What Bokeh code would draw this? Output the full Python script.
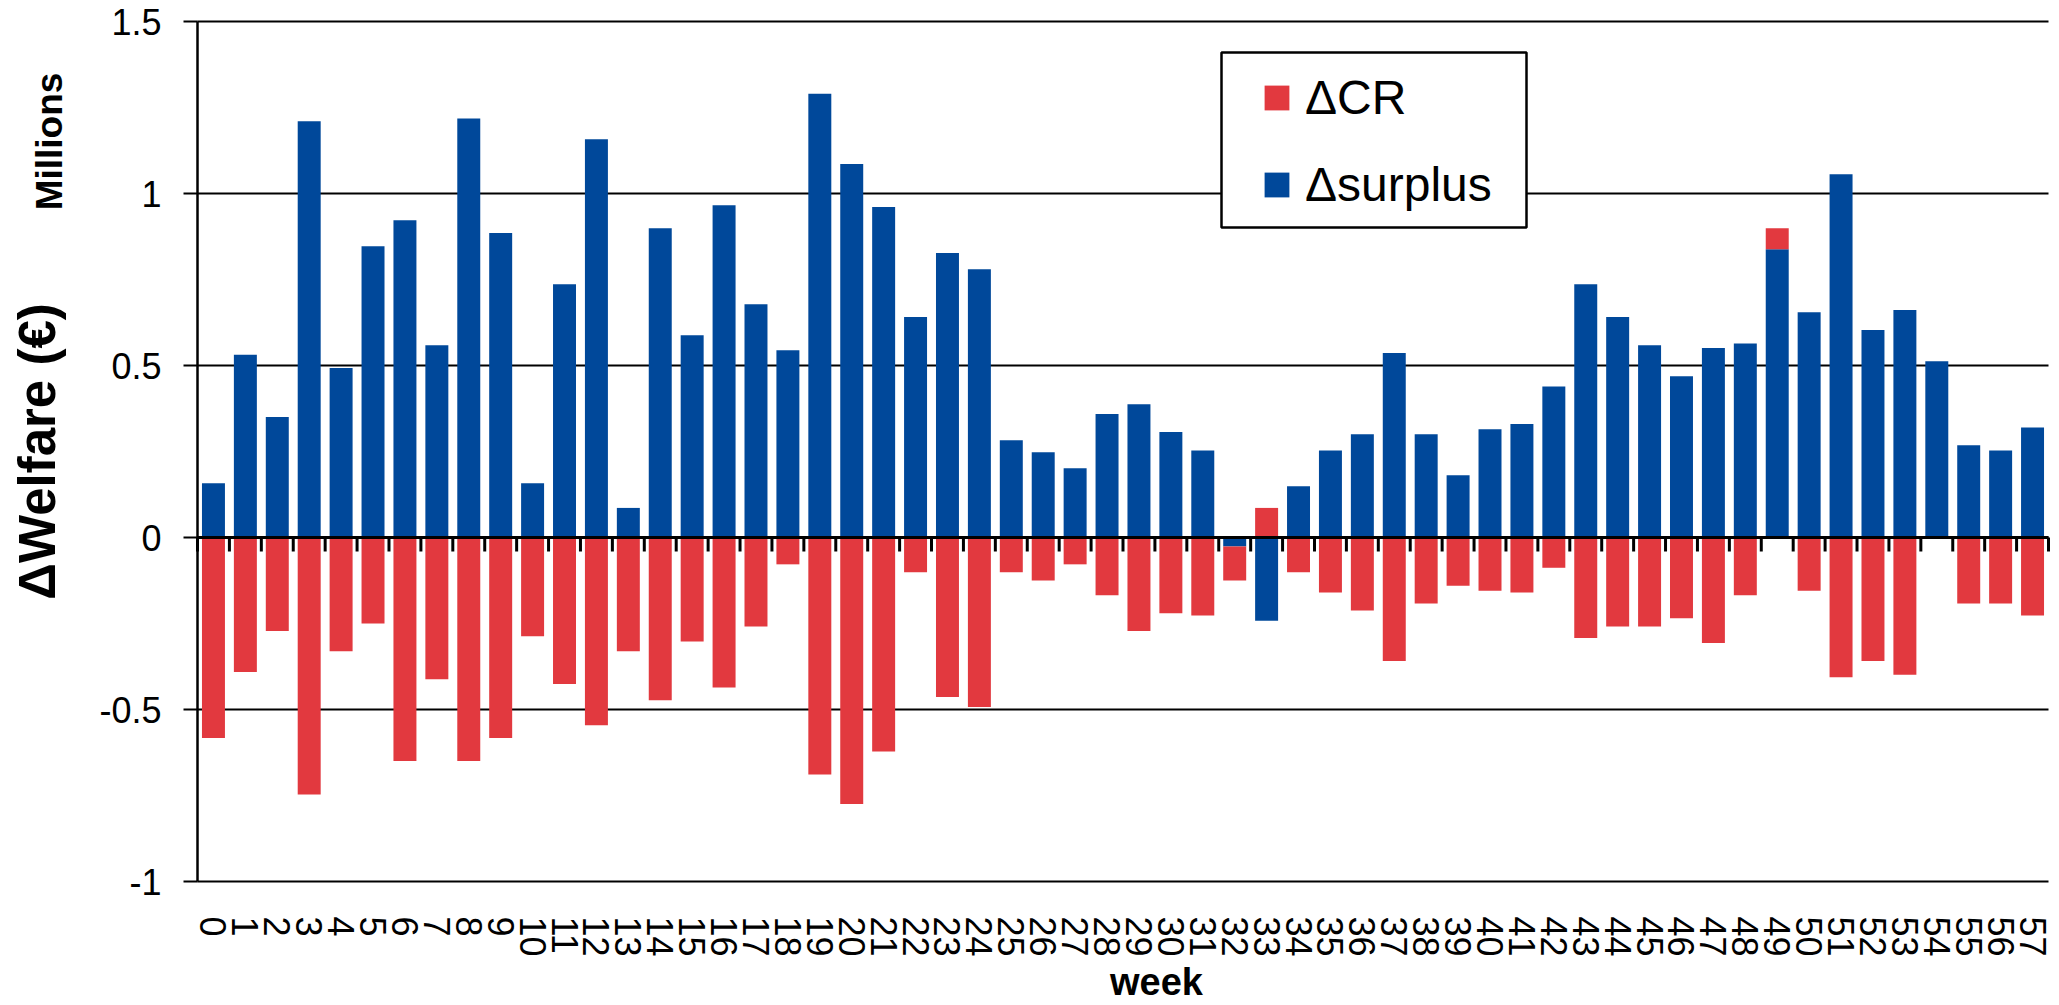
import numpy as np
from bokeh.plotting import figure
from bokeh.models import (Range1d, FixedTicker, Label, Legend, LegendItem,
                          BoxAnnotation, ColumnDataSource, LinearAxis)
from bokeh.embed import file_html
from bokeh.resources import INLINE

weeks = list(range(58))
surplus = [0.158, 0.531, 0.350, 1.210, 0.493, 0.847, 0.922, 0.559, 1.218, 0.885,
           0.158, 0.736, 1.158, 0.086, 0.899, 0.588, 0.966, 0.678, 0.544, 1.290,
           1.086, 0.961, 0.641, 0.827, 0.780, 0.283, 0.248, 0.201, 0.359, 0.387,
           0.307, 0.253, -0.026, -0.242, 0.149, 0.253, 0.300, 0.536, 0.300, 0.181,
           0.315, 0.330, 0.439, 0.736, 0.641, 0.559, 0.469, 0.551, 0.564, 0.838,
           0.655, 1.056, 0.603, 0.661, 0.512, 0.268, 0.253, 0.320]
cr = [-0.583, -0.391, -0.272, -0.747, -0.331, -0.250, -0.650, -0.412, -0.650, -0.583,
      -0.287, -0.426, -0.546, -0.331, -0.473, -0.302, -0.436, -0.259, -0.078, -0.689,
      -0.775, -0.622, -0.101, -0.464, -0.493, -0.101, -0.125, -0.078, -0.168, -0.272,
      -0.220, -0.227, -0.099, 0.086, -0.101, -0.160, -0.212, -0.359, -0.192, -0.140,
      -0.155, -0.160, -0.088, -0.292, -0.259, -0.259, -0.235, -0.307, -0.168, 0.061,
      -0.155, -0.406, -0.359, -0.399, 0.0, -0.192, -0.192, -0.227]
y_ticks = [-1, -0.5, 0, 0.5, 1, 1.5]
y_tick_labels = ["-1", "-0.5", "0", "0.5", "1", "1.5"]

RED = "#E2393F"
BLUE = "#00489A"
FONT = "Liberation Sans"

W, H = 2059, 1005
# plot area in pixels: x -0.5..57.5 -> 197..2048 ; y -1..1.5 -> 881..21
PX_X = (2048 - 197) / len(weeks)
PX_Y = (881 - 21) / 2.5
x0 = -0.5 - 197 / PX_X
x1 = len(weeks) - 0.5 + (W - 2048) / PX_X
y1 = 1.5 + 21 / PX_Y
y0 = -1 - (H - 881) / PX_Y


def dx(px):
    return -0.5 + (px - 197) / PX_X


def dy(py):
    return 1.5 - (py - 21) / PX_Y


x = np.array(weeks, dtype=float)
s = np.array(surplus)
c = np.array(cr)
# Excel-style stacking: positives stack up, negatives stack down, surplus first
s_bottom = np.minimum(s, 0)
s_top = np.maximum(s, 0)
pos_base = np.maximum(s, 0)
neg_base = np.minimum(s, 0)
c_bottom = np.where(c >= 0, pos_base, neg_base + c)
c_top = np.where(c >= 0, pos_base + c, neg_base)

p = figure(width=W, height=H, output_backend="svg", toolbar_location=None,
           x_range=Range1d(x0, x1), y_range=Range1d(y0, y1),
           x_axis_location=None, y_axis_location=None, min_border=0)
p.outline_line_color = None
p.background_fill_color = "white"
p.xgrid.visible = False
p.ygrid.visible = False

xmin, xmax = -0.5, len(weeks) - 0.5
yt = np.array(y_ticks, dtype=float)
# horizontal gridlines
p.segment(x0=np.full_like(yt, xmin), y0=yt, x1=np.full_like(yt, xmax), y1=yt,
          line_color="black", line_width=2)

src = ColumnDataSource(dict(x=x, sb=s_bottom, st=s_top, cb=c_bottom, ct=c_top))
r_s = p.vbar(x="x", bottom="sb", top="st", width=0.72, source=src,
             fill_color=BLUE, line_color=None)
r_c = p.vbar(x="x", bottom="cb", top="ct", width=0.72, source=src,
             fill_color=RED, line_color=None)

# category axis line at zero with tick marks at category boundaries
bounds = np.arange(len(weeks) + 1) - 0.5
p.segment(x0=bounds, y0=np.zeros_like(bounds), x1=bounds,
          y1=np.full_like(bounds, -14 / PX_Y), line_color="black", line_width=3)
p.segment(x0=[xmin], y0=[0], x1=[xmax], y1=[0], line_color="black", line_width=3)

# value axis
yax = LinearAxis(fixed_location=xmin, bounds=(-1, 1.5))
yax.ticker = FixedTicker(ticks=y_ticks)
yax.major_label_overrides = {t: l for t, l in zip(y_ticks, y_tick_labels)}
yax.axis_line_color = "black"
yax.axis_line_width = 2.5
yax.major_tick_line_color = "black"
yax.major_tick_line_width = 2
yax.major_tick_out = 14
yax.major_tick_in = 0
yax.minor_tick_line_color = None
yax.major_label_text_font = FONT
yax.major_label_text_font_size = "36px"
yax.major_label_text_color = "black"
yax.major_label_standoff = 22
p.add_layout(yax, "left")

# category labels along the bottom
xax = LinearAxis(fixed_location=-1)
xax.ticker = FixedTicker(ticks=weeks)
xax.axis_line_color = None
xax.major_tick_line_color = None
xax.minor_tick_line_color = None
xax.major_label_orientation = "vertical"
xax.major_label_text_font = FONT
xax.major_label_text_font_size = "36px"
xax.major_label_text_color = "black"
xax.major_label_standoff = 29
p.add_layout(xax, "below")

# titles
p.add_layout(Label(x=dx(37), y=dy(451), text="ΔWelfare (€)", angle=np.pi / 2,
                   text_align="center", text_baseline="middle",
                   text_font=FONT, text_font_style="bold", text_font_size="51px",
                   text_color="black"))
p.add_layout(Label(x=dx(49), y=dy(141), text="Millions", angle=np.pi / 2,
                   text_align="center", text_baseline="middle",
                   text_font=FONT, text_font_style="bold", text_font_size="37px",
                   text_color="black"))
p.add_layout(Label(x=dx(1156), y=dy(981), text="week",
                   text_align="center", text_baseline="middle",
                   text_font=FONT, text_font_style="bold", text_font_size="38px",
                   text_color="black"))

# legend box
p.add_layout(BoxAnnotation(left=dx(1221), right=dx(1526), top=dy(52), bottom=dy(227),
                           fill_color="white", fill_alpha=1.0,
                           line_color="black", line_alpha=1.0, line_width=2.5,
                           level="annotation"))
legend = Legend(items=[LegendItem(label="ΔCR", renderers=[r_c]),
                       LegendItem(label="Δsurplus", renderers=[r_s])],
                location=(1261, 793), orientation="vertical",
                border_line_color=None, background_fill_alpha=0.0,
                padding=10, margin=0, spacing=32,
                glyph_width=31, glyph_height=31, label_standoff=13,
                label_text_font=FONT, label_text_font_size="48px",
                label_text_color="black")
p.add_layout(legend)

open("out.html", "w").write(file_html(p, INLINE))
